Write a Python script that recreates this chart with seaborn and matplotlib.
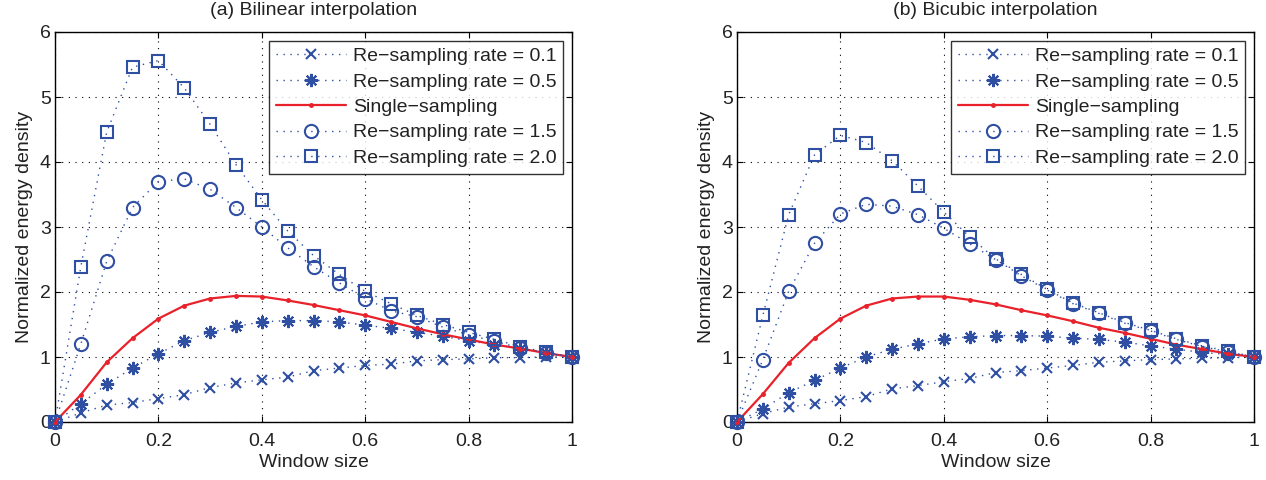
import numpy as np
import pandas as pd
import matplotlib
matplotlib.use("Agg")
import matplotlib.pyplot as plt
import seaborn as sns

window = [0, 0.05, 0.1, 0.15, 0.2, 0.25, 0.3, 0.35, 0.4, 0.45, 0.5,
          0.55, 0.6, 0.65, 0.7, 0.75, 0.8, 0.85, 0.9, 0.95, 1.0]

# (a) Bilinear
bil_r01 = [0, 0.14, 0.26, 0.30, 0.36, 0.42, 0.53, 0.60, 0.65, 0.69, 0.79,
           0.83, 0.87, 0.89, 0.94, 0.96, 0.97, 0.99, 0.99, 1.00, 1.0]
bil_r05 = [0, 0.28, 0.58, 0.83, 1.05, 1.25, 1.38, 1.47, 1.54, 1.56, 1.56,
           1.54, 1.49, 1.44, 1.38, 1.32, 1.25, 1.19, 1.13, 1.06, 1.0]
bil_single = [0, 0.42, 0.92, 1.29, 1.59, 1.79, 1.90, 1.94, 1.93, 1.87, 1.80,
              1.72, 1.64, 1.54, 1.44, 1.35, 1.27, 1.19, 1.13, 1.06, 1.0]
bil_r15 = [0, 1.20, 2.47, 3.30, 3.70, 3.74, 3.58, 3.30, 3.00, 2.68, 2.39,
           2.14, 1.90, 1.71, 1.62, 1.46, 1.34, 1.24, 1.14, 1.06, 1.0]
bil_r20 = [0, 2.39, 4.46, 5.46, 5.56, 5.14, 4.58, 3.96, 3.42, 2.94, 2.56,
           2.27, 2.01, 1.82, 1.64, 1.50, 1.38, 1.27, 1.16, 1.07, 1.0]

# (b) Bicubic
bic_r01 = [0, 0.13, 0.23, 0.28, 0.33, 0.39, 0.51, 0.56, 0.62, 0.67, 0.76,
           0.79, 0.83, 0.87, 0.92, 0.94, 0.96, 0.97, 0.98, 0.99, 1.0]
bic_r05 = [0, 0.20, 0.45, 0.64, 0.83, 1.00, 1.12, 1.20, 1.28, 1.31, 1.33,
           1.33, 1.32, 1.29, 1.27, 1.23, 1.17, 1.12, 1.07, 1.04, 1.0]
bic_single = [0, 0.43, 0.91, 1.29, 1.59, 1.79, 1.90, 1.93, 1.93, 1.88, 1.81,
              1.72, 1.64, 1.55, 1.45, 1.37, 1.28, 1.19, 1.12, 1.05, 1.0]
bic_r15 = [0, 0.96, 2.01, 2.75, 3.20, 3.35, 3.32, 3.19, 2.98, 2.74, 2.50,
           2.25, 2.03, 1.82, 1.67, 1.52, 1.40, 1.27, 1.16, 1.08, 1.0]
bic_r20 = [0, 1.64, 3.19, 4.11, 4.41, 4.30, 4.02, 3.63, 3.23, 2.85, 2.51,
           2.27, 2.04, 1.83, 1.68, 1.53, 1.41, 1.28, 1.17, 1.09, 1.0]

labels = ["Re\u2212sampling rate = 0.1", "Re\u2212sampling rate = 0.5",
          "Single\u2212sampling", "Re\u2212sampling rate = 1.5",
          "Re\u2212sampling rate = 2.0"]
titles = ["(a) Bilinear interpolation", "(b) Bicubic interpolation"]
xticks = [0, 0.2, 0.4, 0.6, 0.8, 1]
yticks = [0, 1, 2, 3, 4, 5, 6]

sns.set_style("white")
plt.rcParams["font.family"] = ["Liberation Sans", "DejaVu Sans"]
TXT = "#222222"

BLUE = "#2F4FA3"
RED = "#E8212A"
DOT = (0, (1, 4))

styles = [
    dict(color=BLUE, linestyle=DOT, linewidth=1.0, marker="x", markersize=7.5, markeredgewidth=1.5, markerfacecolor=BLUE),
    dict(color=BLUE, linestyle=DOT, linewidth=1.0, marker=(8, 2, 0), markersize=9.5, markeredgewidth=1.5, markerfacecolor=BLUE),
    dict(color=RED, linestyle="-", linewidth=1.6, marker=".", markersize=5, markeredgewidth=1.0, markerfacecolor=RED),
    dict(color=BLUE, linestyle=DOT, linewidth=1.0, marker="o", markersize=9.5, markerfacecolor="none", markeredgewidth=1.5),
    dict(color=BLUE, linestyle=DOT, linewidth=1.0, marker="s", markersize=8, markerfacecolor="none", markeredgewidth=1.5),
]

fig = plt.figure(figsize=(12.66, 4.8), dpi=100)
axes = [fig.add_axes([55 / 1266, 58 / 480, 517 / 1266, 390 / 480]),
        fig.add_axes([737 / 1266, 58 / 480, 517 / 1266, 390 / 480])]

panels = [[bil_r01, bil_r05, bil_single, bil_r15, bil_r20],
          [bic_r01, bic_r05, bic_single, bic_r15, bic_r20]]

FS = 14

for ax, series, title in zip(axes, panels, titles):
    for vals, lab, st in zip(series, labels, styles):
        df = pd.DataFrame({"x": window, "y": vals})
        sns.lineplot(data=df, x="x", y="y", ax=ax, label=lab,
                     color=st["color"], linewidth=st["linewidth"])
        line = ax.lines[-1]
        line.set_linestyle(st["linestyle"])
        line.set_marker(st["marker"])
        line.set_markersize(st["markersize"])
        line.set_markeredgewidth(st["markeredgewidth"])
        line.set_markeredgecolor(st["color"])
        line.set_markerfacecolor(st["markerfacecolor"])
        line.set_clip_on(False)
        line.set_zorder(3)
    ax.set_xlim(0, 1)
    ax.set_ylim(0, 6)
    ax.set_xticks(xticks)
    ax.set_xticklabels([f"{t:g}" for t in xticks])
    ax.set_yticks(yticks)
    ax.grid(True, color="black", linestyle=(0, (1, 5)), linewidth=0.8)
    ax.tick_params(direction="in", length=4, labelsize=FS, colors="black",
                   labelcolor=TXT, top=True, right=True, bottom=True, left=True)
    ax.tick_params(axis="x", pad=8)
    ax.tick_params(axis="y", pad=3)
    for s in ax.spines.values():
        s.set_color("black")
        s.set_linewidth(1.0)
    ax.set_xlabel("Window size", fontsize=FS, labelpad=3, color=TXT)
    ax.set_ylabel("Normalized energy density", fontsize=FS, labelpad=5, color=TXT)
    ax.set_title(title, fontsize=FS, pad=12, color=TXT)
    handles, labs = ax.get_legend_handles_labels()
    leg = ax.legend(handles, labs, loc="upper right", fontsize=FS, frameon=True, fancybox=False,
                    edgecolor="black", borderpad=0.35, labelspacing=0.4,
                    handlelength=3.6, handletextpad=0.35, borderaxespad=0.45)
    leg.get_frame().set_linewidth(1.0)
    for t in leg.get_texts():
        t.set_color(TXT)

fig.savefig("out.png", dpi=100)
